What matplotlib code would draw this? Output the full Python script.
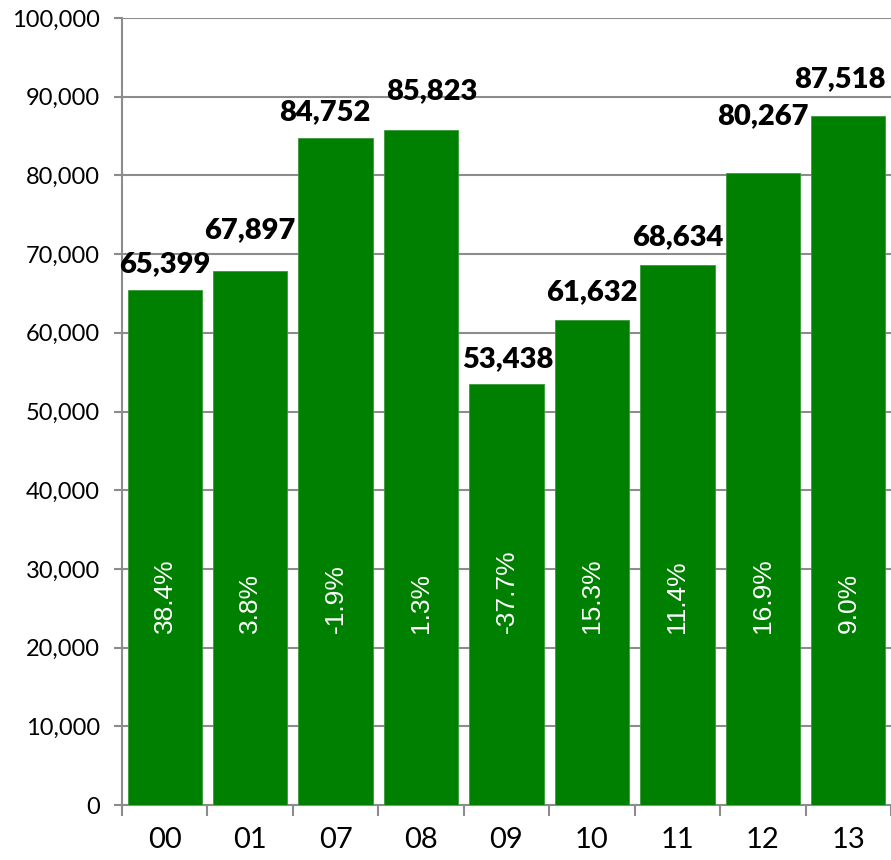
import matplotlib.pyplot as plt
from matplotlib.ticker import FuncFormatter, MultipleLocator
import numpy as np

# Define data.
years = ['00', '01', '07', '08', '09', '10', '11', '12', '13']
values = [65399, 67897, 84752, 85823, 53438, 61632, 68634, 80267, 87518]
growth = ['38.4%', '3.8%', '-1.9%', '1.3%', '-37.7%', '15.3%', '11.4%', '16.9%', '9.0%']

# Hand tweaks for value label placement (pixels), as in the original.
label_dx = [0, 0, -11, 11, 1, 0, 0, 0, -8]
label_dy = [18, 33, 18, 30, 17, 20, 20, 49, 29]

green = '#008000'
grey = '#8c8c8c'

fig = plt.figure(figsize=(8.91, 8.60), dpi=100)
ax = fig.add_axes([122 / 891, 1 - 805 / 860, 1 - 122 / 891, (805 - 18) / 860])

x = np.arange(len(years))
ax.bar(x, values, width=0.87, color=green, edgecolor='#3a9a3a', linewidth=0.6, zorder=3)

# Value labels above bars.
for i, v in enumerate(values):
    ax.annotate(f'{v:,}', (x[i], v), xytext=(label_dx[i], label_dy[i]),
                textcoords='offset pixels', ha='center', va='baseline',
                fontsize=21, fontweight='heavy', family='Lato', color='black',
                zorder=4, annotation_clip=False)

# Growth labels inside bars.
for i, g in enumerate(growth):
    ax.text(x[i], 21800, g, rotation=90, ha='center', va='bottom',
            fontsize=19, family='Liberation Sans', color='white', zorder=4)

# Axes limits and ticks.
ax.set_ylim(0, 100000)
ax.set_xlim(-0.5, 8.42)
ax.yaxis.set_major_locator(MultipleLocator(10000))
ax.yaxis.set_major_formatter(FuncFormatter(lambda v, p: f'{int(v):,}'))
ax.set_xticks(x)
ax.set_xticklabels(years)
ax.set_xticks(np.arange(-0.5, len(years)), minor=True)

ax.tick_params(axis='y', which='major', length=6, width=1.5, color=grey,
               pad=10, labelsize=17)
ax.tick_params(axis='x', which='major', length=0, pad=16, labelsize=21)
ax.tick_params(axis='x', which='minor', length=8, width=1.5, color=grey)
for lab in ax.get_yticklabels() + ax.get_xticklabels():
    lab.set_family('Lato')

ax.grid(axis='y', color=grey, linewidth=1.5, zorder=0)
for side in ['top', 'right']:
    ax.spines[side].set_visible(False)
for side in ['left', 'bottom']:
    ax.spines[side].set_color(grey)
    ax.spines[side].set_linewidth(1.5)

plt.savefig('out.png', dpi=100)
